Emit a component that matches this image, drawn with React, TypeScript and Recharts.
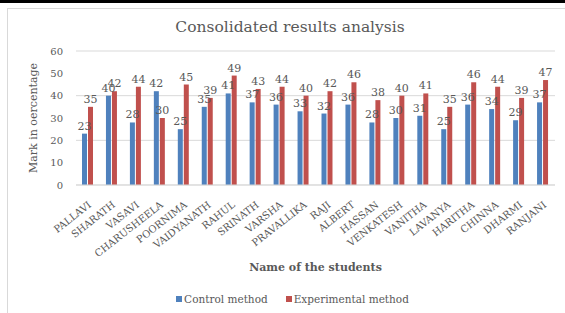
import React from "react"
import { Bar, BarChart, CartesianGrid, Label, LabelList, Legend, XAxis, YAxis } from "recharts"

const students = [
  "PALLAVI", "SHARATH", "VASAVI", "CHARUSHEELA", "POORNIMA", "VAIDYANATH", "RAHUL",
  "SRINATH", "VARSHA", "PRAVALLIKA", "RAJI", "ALBERT", "HASSAN", "VENKATESH",
  "VANITHA", "LAVANYA", "HARITHA", "CHINNA", "DHARMI", "RANJANI",
]
const controlMethod = [23, 40, 28, 42, 25, 35, 41, 37, 36, 33, 32, 36, 28, 30, 31, 25, 36, 34, 29, 37]
const experimentalMethod = [35, 42, 44, 30, 45, 39, 49, 43, 44, 40, 42, 46, 38, 40, 41, 35, 46, 44, 39, 47]
const yTicks = [0, 10, 20, 30, 40, 50, 60]

const FONT = "'DejaVu Serif', serif"
const TEXT = "#595959"

const chartData = students.map((name, i) => ({
  name,
  control: controlMethod[i],
  experimental: experimentalMethod[i],
}))

// rotated category labels, anchored at their right end
const StudentTick = ({ x, y, payload }: any) => (
  <text
    x={x + 4}
    y={y + 13}
    textAnchor="end"
    fontSize={10}
    fontFamily={FONT}
    fill={TEXT}
    transform={`rotate(-38 ${x + 4} ${y + 13})`}
  >
    {payload.value}
  </text>
)

const LegendContent = () => (
  <div style={{ width: 565, display: "flex", justifyContent: "center", gap: 18, height: 20, alignItems: "center", fontFamily: FONT, fontSize: 10.5, color: TEXT }}>
    <span style={{ display: "flex", alignItems: "center" }}>
      <span style={{ width: 6, height: 6, background: "#4F81BD", marginRight: 2 }} />
      Control method
    </span>
    <span style={{ display: "flex", alignItems: "center" }}>
      <span style={{ width: 6, height: 6, background: "#C0504D", marginRight: 2 }} />
      Experimental method
    </span>
  </div>
)

export default function App() {
  return (
    <div style={{ position: "fixed", left: 0, top: 0, width: 565, height: 313, background: "#fff", overflow: "hidden" }}>
      <div style={{ position: "absolute", left: 0, top: 0, width: 565, height: 3, background: "#000" }} />
      <div style={{ position: "absolute", left: 7, top: 8, width: 570, height: 320, borderTop: "1px solid #d9d9d9", borderLeft: "1px solid #d9d9d9" }} />
      <div style={{ position: "absolute", left: 0, width: 580, top: 18, textAlign: "center", fontFamily: FONT, fontSize: 15.5, color: TEXT }}>
        Consolidated results analysis
      </div>
      <BarChart
        width={565}
        height={313}
        data={chartData}
        margin={{ top: 51, right: 10, left: 8, bottom: 44 }}
        barSize={5}
        barGap={1}
      >
        <CartesianGrid vertical={false} stroke="#d9d9d9" />
        <XAxis
          dataKey="name"
          interval={0}
          height={64}
          tick={<StudentTick />}
          tickLine={false}
          axisLine={{ stroke: "#d9d9d9" }}
        >
          <Label value="Name of the students" position="bottom" offset={14} fontFamily={FONT} fontSize={11} fontWeight="bold" fill={TEXT} />
        </XAxis>
        <YAxis
          width={68}
          domain={[0, 60]}
          ticks={yTicks}
          tickLine={false}
          tickSize={0}
          tickMargin={13}
          axisLine={false}
          tick={{ fontSize: 10, fontFamily: FONT, fill: TEXT }}
        >
          <Label value="Mark in oercentage" angle={-90} position="center" dx={-9} fontFamily={FONT} fontSize={11} fill={TEXT} />
        </YAxis>
        <Legend content={<LegendContent />} verticalAlign="bottom" wrapperStyle={{ top: 289, left: 10, bottom: "auto", width: 565 }} />
        <Bar dataKey="control" name="Control method" fill="#4F81BD" isAnimationActive={false}>
          <LabelList dataKey="control" position="top" offset={4} fontSize={11} fontFamily={FONT} fill={TEXT} />
        </Bar>
        <Bar dataKey="experimental" name="Experimental method" fill="#C0504D" isAnimationActive={false}>
          <LabelList dataKey="experimental" position="top" offset={4} fontSize={11} fontFamily={FONT} fill={TEXT} />
        </Bar>
      </BarChart>
    </div>
  )
}
